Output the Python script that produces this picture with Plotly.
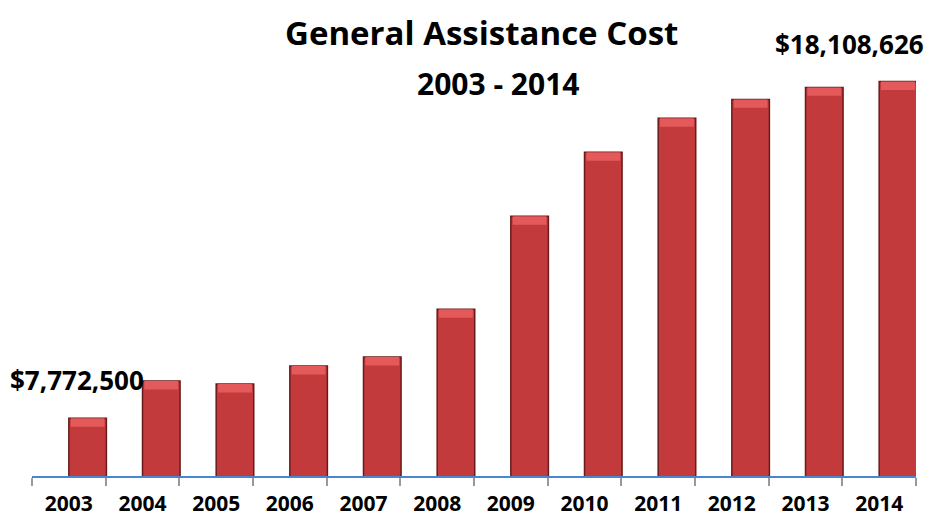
import plotly.graph_objects as go

years = ["2003", "2004", "2005", "2006", "2007", "2008", "2009", "2010", "2011", "2012", "2013", "2014"]
costs = [7772500, 8914000, 8822000, 9374000, 9650000, 11122000, 13975000, 15937000, 16980000, 17563000, 17931000, 18108626]
labels = ["$7,772,500", "", "", "", "", "", "", "", "", "", "", "$18,108,626"]

FONT = "Open Sans"
cap = 260000  # height of lighter bevel cap (data units)

fig = go.Figure()
fig.add_trace(go.Bar(
    x=years, y=costs,
    width=0.51, offset=0.0,
    marker=dict(color="#C33A3C", line=dict(color="#6A1A1A", width=1.5)),
    hoverinfo="x+y",
))
fig.add_trace(go.Bar(
    x=years, y=[cap] * len(costs), base=[c - cap for c in costs],
    width=0.46, offset=0.025,
    marker=dict(color="#E45A5A", line=dict(width=0)),
    hoverinfo="skip",
))

for i, (c, lab) in enumerate(zip(costs, labels)):
    if lab:
        fig.add_annotation(
            x=i, y=c, text=lab, showarrow=False,
            xanchor="center", yanchor="bottom",
            xshift=8 if i == 0 else -30, yshift=18,
            font=dict(family=FONT, size=26, color="#000000", weight="bold"),
        )

fig.add_annotation(x=0.5, y=1.0, xref="paper", yref="paper", text="General Assistance Cost",
                   showarrow=False, xanchor="center", yanchor="top", xshift=7, yshift=12,
                   font=dict(family=FONT, size=33, color="#000000", weight="bold"))
fig.add_annotation(x=0.5, y=1.0, xref="paper", yref="paper", text="2003 - 2014",
                   showarrow=False, xanchor="center", yanchor="top", xshift=24, yshift=-41,
                   font=dict(family=FONT, size=30, color="#000000", weight="bold"))

fig.update_layout(
    width=935, height=520,
    margin=dict(l=24, r=27, t=12, b=52),
    paper_bgcolor="white", plot_bgcolor="white",
    barmode="overlay",
    showlegend=False,
)
fig.update_xaxes(
    type="category", categoryorder="array", categoryarray=years,
    range=[-0.5, len(years) - 0.5], autorange=False, automargin=False,
    showline=True, linecolor="#4A86D0", linewidth=2,
    ticks="outside", tickson="boundaries", ticklen=8, tickcolor="#9A9A9A", tickwidth=2,
    tickfont=dict(family=FONT, size=21, color="#000000", weight="bold"),
    tickangle=0, ticklabelstandoff=8,
    showgrid=False,
)
fig.update_yaxes(range=[6000000, 20000000], visible=False, showgrid=False, automargin=False)

fig.write_html("out.html")
